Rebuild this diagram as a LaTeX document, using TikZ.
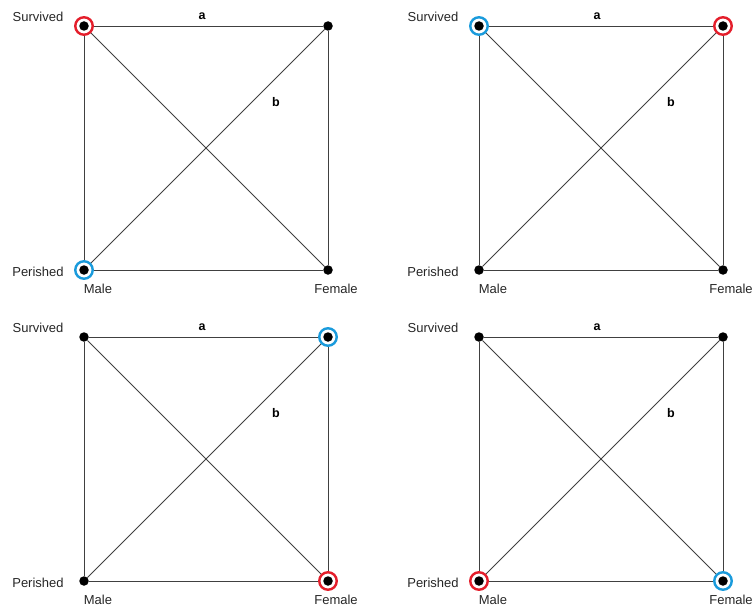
\documentclass[tikz,border=0pt]{standalone}
\usepackage{fontspec}
\setmainfont{Liberation Sans}
\usetikzlibrary{backgrounds}
\definecolor{ringred}{HTML}{E41E2B}
\definecolor{ringblue}{HTML}{1A9BDC}
\definecolor{edgegray}{HTML}{404040}
\begin{document}
\begin{tikzpicture}[x=1pt,y=-1pt,
  dot/.style={circle,fill=black,inner sep=0pt,minimum size=9.5pt},
  ringr/.style={circle,draw=ringred,fill=white,line width=2.4pt,inner sep=0pt,minimum size=17.5pt},
  ringb/.style={circle,draw=ringblue,fill=white,line width=2.4pt,inner sep=0pt,minimum size=17.5pt},
  edge/.style={draw=edgegray,line width=0.8pt},
  lab/.style={inner sep=0pt,font=\fontsize{13}{15}\selectfont,text=black!85},
  letter/.style={inner sep=0pt,font=\fontsize{12.5}{14}\selectfont\bfseries}]
\useasboundingbox (0,0) rectangle (755,610);
\foreach \dx/\dy/\p/\r/\b in {0/0/p1/tl/bl, 395/0/p2/tr/tl, 0/311/p3/br/tr, 395/311/p4/bl/br}{
  \begin{scope}[shift={(\dx,\dy)}]
    \coordinate (\p-ctl) at (84,26);
    \coordinate (\p-ctr) at (328,26);
    \coordinate (\p-cbl) at (84,270);
    \coordinate (\p-cbr) at (328,270);
    \node[ringr] (\p-rr) at (\p-c\r) {};
    \node[ringb] (\p-rb) at (\p-c\b) {};
    \node[dot] (\p-tl) at (\p-ctl) {};
    \node[dot] (\p-tr) at (\p-ctr) {};
    \node[dot] (\p-bl) at (\p-cbl) {};
    \node[dot] (\p-br) at (\p-cbr) {};
    \node[lab] (\p-surv) at (38,17) {Survived};
    \node[lab] (\p-per) at (38,272) {Perished};
    \node[lab] (\p-male) at (98,288.5) {Male};
    \node[lab] (\p-fem) at (336,288.5) {Female};
    \node[letter] (\p-a) at (202,16) {a};
    \node[letter] (\p-b) at (276,102) {b};
  \end{scope}
  \begin{scope}[on background layer]
    \draw[edge] (\p-tl) -- (\p-tr) -- (\p-br) -- (\p-bl) -- (\p-tl);
    \draw[edge] (\p-tl) -- (\p-br);
    \draw[edge] (\p-bl) -- (\p-tr);
  \end{scope}
}
\end{tikzpicture}
\end{document}
